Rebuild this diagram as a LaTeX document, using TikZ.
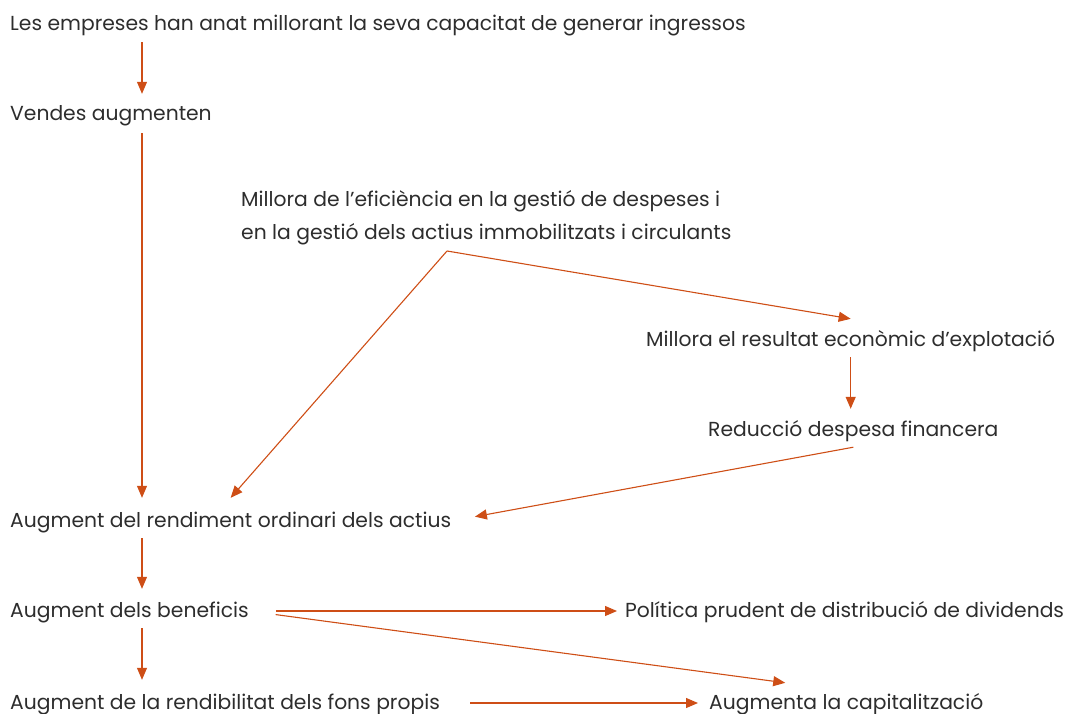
\documentclass[tikz,border=0pt]{standalone}
\usepackage{fontspec}
\setmainfont{Poppins}
\usetikzlibrary{arrows.meta, positioning}
\definecolor{arrowred}{RGB}{206,78,22}
\definecolor{textgrey}{RGB}{45,45,45}

\begin{document}
\begin{tikzpicture}[
    x=1pt, y=-1pt,
    label/.style={anchor=base west, inner sep=0pt, text height=17pt, text depth=5pt,
                  text=textgrey, font=\fontsize{20.3}{33}\selectfont},
    arrow/.style={-{Triangle[length=12pt, width=10pt]}, line width=1.1pt, arrowred}
]
\useasboundingbox (0,0) rectangle (1070,714);
\coordinate (col) at (142,0);

\node[label] (income) at (10,31) {Les empreses han anat millorant la seva capacitat de generar ingressos};
\node[label] (sales) at (10,121) {Vendes augmenten};
\node[label] (effic) at (241,206) {Millora de l’eficiència en la gestió de despeses i};
\node[label] (effic2) at (241,239) {en la gestió dels actius immobilitzats i circulants};
\node[label] (result) at (646,346) {Millora el resultat econòmic d’explotació};
\node[label] (finance) at (708,436) {Reducció despesa financera};
\node[label] (assets) at (10,527) {Augment del rendiment ordinari dels actius};
\node[label] (profit) at (10,617) {Augment dels beneficis};
\node[label] (divid) at (625,617) {Política prudent de distribució de dividends};
\node[label] (equity) at (10,709) {Augment de la rendibilitat dels fons propis};
\node[label] (capital) at (709,709) {Augmenta la capitalització};

\coordinate (split) at (447,251);

\draw[arrow, shorten <=6pt, shorten >=10pt] (income.south -| col)--(sales.north -| col);
\draw[arrow, shorten <=7pt, shorten >=12pt] (sales.south -| col)--(assets.north -| col);
\draw[arrow, shorten <=6pt, shorten >=11pt] (assets.south -| col)--(profit.north -| col);
\draw[arrow, shorten <=6pt, shorten >=12pt] (profit.south -| col)--(equity.north -| col);

\draw[arrow] (split)--([yshift=10pt]result.north);
\draw[arrow] (split)--([yshift=12pt]assets.north);
\draw[arrow, shorten <=6pt, shorten >=10pt] (result.south)--(finance.north -| result.south);
\draw[arrow, shorten >=24pt] ([yshift=-6pt]finance.south)--(assets.east);

\draw[arrow, shorten <=27pt, shorten >=8pt] (profit.east)--(divid.west);
\draw[arrow, shorten <=27pt] (profit.east)--([xshift=-61pt, yshift=9pt]capital.north);
\draw[arrow, shorten <=30pt, shorten >=11pt] (equity.east)--(capital.west);
\end{tikzpicture}
\end{document}
